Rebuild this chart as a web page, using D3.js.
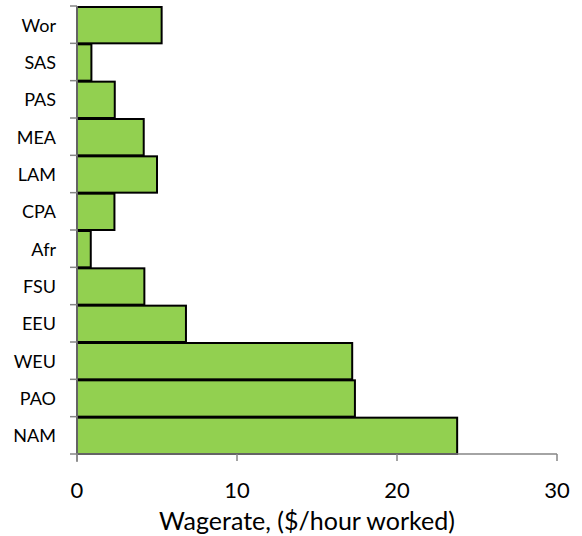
<!DOCTYPE html>
<html><head><meta charset="utf-8">
<script src="https://cdn.jsdelivr.net/npm/d3@7"></script>
<style>body{margin:0;background:#fff;} text{font-family:Lato,"Open Sans",sans-serif;fill:#000;}</style>
</head><body>
<svg id="c" width="582" height="536"></svg>
<script>
const categories = ["NAM","PAO","WEU","EEU","FSU","Afr","CPA","LAM","MEA","PAS","SAS","Wor"];
const wagerate = [23.76, 17.37, 17.2, 6.81, 4.21, 0.86, 2.34, 5.0, 4.17, 2.36, 0.9, 5.29];
const xTicks = [0, 10, 20, 30];
const xTitle = "Wagerate, ($/hour worked)";

(function () {
const svg = d3.select("#c");
const mLeft = 77, mRight = 557, mTop = 6, mBottom = 454;
const x = d3.scaleLinear().domain([0, 30]).range([mLeft, mRight]);
const y = d3.scaleBand().domain(categories).range([mBottom, mTop]).padding(0);
const axisColor = "#868686";

svg.append("g").selectAll("rect").data(categories).join("rect")
  .attr("x", x(0))
  .attr("y", d => y(d) + 1)
  .attr("width", (d, i) => x(wagerate[i]) - x(0))
  .attr("height", y.bandwidth() - 1)
  .attr("fill", "#92D050")
  .attr("stroke", "#000")
  .attr("stroke-width", 2);

// y axis
const ya = svg.append("g");
ya.append("line").attr("x1", mLeft).attr("x2", mLeft).attr("y1", mTop).attr("y2", mBottom + 8)
  .attr("stroke", axisColor).attr("stroke-width", 1.5);
const bounds = categories.map(c => y(c)).concat([mBottom]);
ya.selectAll("line.t").data(bounds).join("line").attr("class","t")
  .attr("x1", mLeft - 7).attr("x2", mLeft).attr("y1", d => d).attr("y2", d => d)
  .attr("stroke", axisColor).attr("stroke-width", 1.5);
ya.selectAll("text").data(categories).join("text")
  .attr("x", 56).attr("y", d => y(d) + y.bandwidth() / 2)
  .attr("text-anchor", "end").attr("dominant-baseline", "central")
  .attr("font-size", 18).text(d => d);

// x axis
const xa = svg.append("g");
xa.append("line").attr("x1", mLeft).attr("x2", mRight).attr("y1", mBottom).attr("y2", mBottom)
  .attr("stroke", axisColor).attr("stroke-width", 1.5);
xa.selectAll("line.t").data(xTicks).join("line").attr("class","t")
  .attr("x1", d => x(d)).attr("x2", d => x(d)).attr("y1", mBottom).attr("y2", mBottom + 7)
  .attr("stroke", axisColor).attr("stroke-width", 1.5);
xa.selectAll("text").data(xTicks).join("text")
  .attr("x", d => x(d)).attr("y", 489)
  .attr("text-anchor", "middle").attr("dominant-baseline", "central")
  .attr("font-size", 22).text(d => d);
svg.append("text").attr("x", 307).attr("y", 520)
  .attr("text-anchor", "middle").attr("dominant-baseline", "central")
  .attr("font-size", 25).text(xTitle);
})();
</script>
</body></html>
